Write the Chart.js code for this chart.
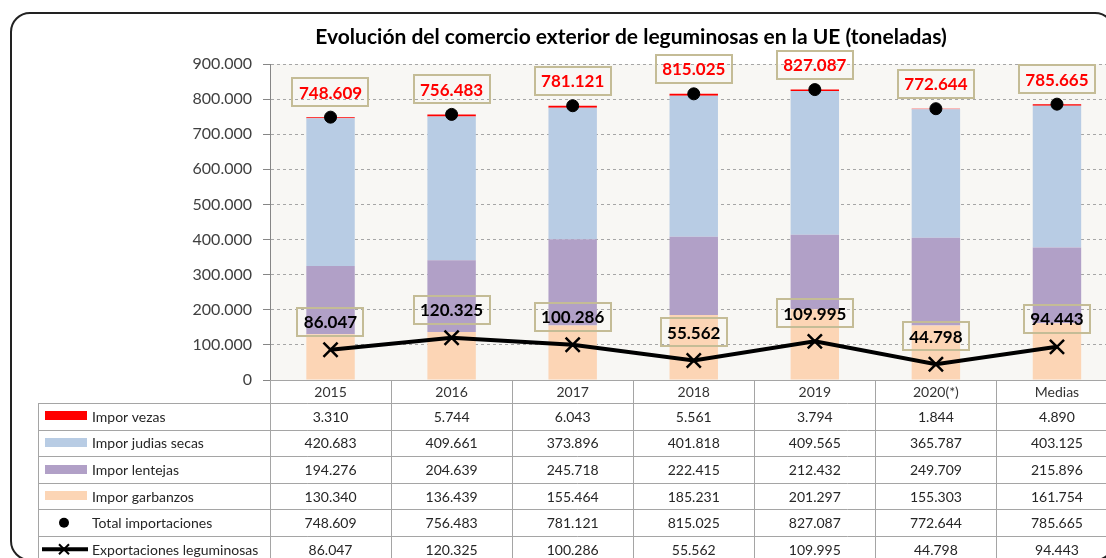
<!DOCTYPE html>
<html>
<head>
<meta charset="utf-8">
<script src="https://cdn.jsdelivr.net/npm/chart.js@4.4.0/dist/chart.umd.min.js"></script>
<style>
html, body { margin: 0; padding: 0; overflow: hidden; background: #fff; }
#frame { position: absolute; left: 10px; top: 12px; width: 1105px; height: 549px; border: 2px solid #222; border-radius: 20px; box-sizing: border-box; }
#chart { position: absolute; left: 0; top: 0; }
</style>
</head>
<body>
<div id="frame"></div>
<canvas id="chart" width="1130" height="572"></canvas>
<script>
const title = 'Evolución del comercio exterior de leguminosas en la UE (toneladas)';
const years = ['2015', '2016', '2017', '2018', '2019', '2020(*)', 'Medias'];
const vezas = [3310, 5744, 6043, 5561, 3794, 1844, 4890];
const judias = [420683, 409661, 373896, 401818, 409565, 365787, 403125];
const lentejas = [194276, 204639, 245718, 222415, 212432, 249709, 215896];
const garbanzos = [130340, 136439, 155464, 185231, 201297, 155303, 161754];
const totalImport = [748609, 756483, 781121, 815025, 827087, 772644, 785665];
const exportaciones = [86047, 120325, 100286, 55562, 109995, 44798, 94443];
const yMax = 900000;
const yStep = 100000;

const FONT = 'Lato, "Open Sans", sans-serif';

function fmt(v) {
    return Math.round(v).toString().replace(/\B(?=(\d{3})+(?!\d))/g, '.');
}

// table rows under the chart (legend + values)
const rows = [
    { name: 'Impor vezas', values: vezas, key: 'box', color: '#FF0000' },
    { name: 'Impor judias secas', values: judias, key: 'box', color: '#B8CCE4' },
    { name: 'Impor lentejas', values: lentejas, key: 'box', color: '#B1A0C7' },
    { name: 'Impor garbanzos', values: garbanzos, key: 'box', color: '#FCD5B5' },
    { name: 'Total importaciones', values: totalImport, key: 'dot' },
    { name: 'Exportaciones leguminosas', values: exportaciones, key: 'line' }
];

// plot area background
const plotBg = {
    id: 'plotBg',
    beforeDraw(chart) {
        const { ctx, chartArea: a } = chart;
        ctx.save();
        ctx.fillStyle = '#F8F7F4';
        ctx.fillRect(a.left, a.top, a.right - a.left, a.bottom - a.top);
        ctx.restore();
    }
};

// boxed value labels over the points
function drawBox(ctx, text, x, y, color) {
    ctx.font = 'bold 17px ' + FONT;
    const w = ctx.measureText(text).width + 13;
    const h = 28;
    ctx.strokeStyle = '#C4BC96';
    ctx.lineWidth = 2;
    ctx.strokeRect(Math.round(x - w / 2), Math.round(y - h / 2), Math.round(w), h);
    ctx.fillStyle = color;
    ctx.textAlign = 'center';
    ctx.textBaseline = 'middle';
    ctx.fillText(text, x, y + 1);
}

const pointLabels = {
    id: 'pointLabels',
    afterDatasetsDraw(chart) {
        const ctx = chart.ctx;
        ctx.save();
        chart.getDatasetMeta(0).data.forEach((p, i) => drawBox(ctx, fmt(totalImport[i]), p.x, p.y - 25, '#FF0000'));
        chart.getDatasetMeta(1).data.forEach((p, i) => drawBox(ctx, fmt(exportaciones[i]), p.x, p.y - 28, '#000'));
        ctx.restore();
    }
};

// title + data table
const dataTable = {
    id: 'dataTable',
    afterDraw(chart) {
        const { ctx, chartArea: a } = chart;
        const xs = chart.scales.x;
        const half = (xs.getPixelForValue(1) - xs.getPixelForValue(0)) / 2;
        const right = xs.getPixelForValue(years.length - 1) + half;
        const left = 38;
        const top = a.bottom;
        const headH = 23;
        const rowH = 26.6;
        const bottom = top + headH + rows.length * rowH;
        ctx.save();

        ctx.font = 'bold 21px ' + FONT;
        ctx.fillStyle = '#000';
        ctx.textAlign = 'center';
        ctx.textBaseline = 'middle';
        ctx.fillText(title, 631, 37);

        ctx.strokeStyle = '#A5A5A5';
        ctx.lineWidth = 1;
        ctx.beginPath();
        const px = v => Math.round(v) + 0.5;
        ctx.moveTo(a.left, px(top));
        ctx.lineTo(right, px(top));
        for (let r = 0; r <= rows.length; r++) {
            const y = px(top + headH + r * rowH);
            ctx.moveTo(left, y);
            ctx.lineTo(right, y);
        }
        ctx.moveTo(px(left), top + headH);
        ctx.lineTo(px(left), bottom);
        for (let i = 0; i <= years.length; i++) {
            const x = px(a.left + i * half * 2);
            ctx.moveTo(x, top);
            ctx.lineTo(x, bottom);
        }
        ctx.stroke();

        ctx.font = '14px ' + FONT;
        ctx.fillStyle = '#333';
        ctx.textAlign = 'center';
        years.forEach((y, i) => ctx.fillText(y, xs.getPixelForValue(i), top + headH / 2 + 1));

        rows.forEach((row, r) => {
            const cy = top + headH + r * rowH + rowH / 2;
            if (row.key === 'box') {
                ctx.fillStyle = row.color;
                ctx.fillRect(45, Math.round(cy - 5), 42, 9);
            } else if (row.key === 'dot') {
                ctx.fillStyle = '#000';
                ctx.beginPath();
                ctx.arc(64, cy, 5, 0, Math.PI * 2);
                ctx.fill();
            } else {
                ctx.strokeStyle = '#000';
                ctx.lineWidth = 4;
                ctx.beginPath();
                ctx.moveTo(42, cy);
                ctx.lineTo(88, cy);
                ctx.stroke();
                ctx.lineWidth = 2;
                ctx.beginPath();
                ctx.moveTo(59, cy - 5); ctx.lineTo(69, cy + 5);
                ctx.moveTo(59, cy + 5); ctx.lineTo(69, cy - 5);
                ctx.stroke();
            }
            ctx.fillStyle = '#262626';
            ctx.textAlign = 'left';
            ctx.fillText(row.name, 92, cy + 1);
            ctx.textAlign = 'center';
            row.values.forEach((v, i) => ctx.fillText(fmt(v), xs.getPixelForValue(i), cy + 1));
        });
        ctx.restore();
    }
};

const ctx = document.getElementById('chart').getContext('2d');
new Chart(ctx, {
    type: 'bar',
    data: {
        labels: years,
        datasets: [{
            type: 'line',
            label: 'Total importaciones',
            data: totalImport,
            showLine: false,
            pointRadius: 6,
            pointBackgroundColor: '#000',
            pointBorderColor: '#000',
            stack: 'total',
            order: 0
        }, {
            type: 'line',
            label: 'Exportaciones leguminosas',
            data: exportaciones,
            borderColor: '#000',
            borderWidth: 4,
            pointStyle: 'crossRot',
            pointRadius: 10,
            pointBorderWidth: 2.5,
            pointBorderColor: '#000',
            pointBackgroundColor: '#000',
            stack: 'export',
            order: 0
        }, {
            label: 'Impor garbanzos',
            data: garbanzos,
            backgroundColor: '#FCD5B5',
            stack: 'imp',
            order: 1
        }, {
            label: 'Impor lentejas',
            data: lentejas,
            backgroundColor: '#B1A0C7',
            stack: 'imp',
            order: 1
        }, {
            label: 'Impor judias secas',
            data: judias,
            backgroundColor: '#B8CCE4',
            stack: 'imp',
            order: 1
        }, {
            label: 'Impor vezas',
            data: vezas,
            backgroundColor: '#FF0000',
            stack: 'imp',
            order: 1
        }]
    },
    options: {
        responsive: false,
        animation: false,
        devicePixelRatio: 1,
        categoryPercentage: 0.8,
        barPercentage: 0.5,
        layout: { padding: { top: 64, left: 0, right: 10, bottom: 192 } },
        plugins: {
            legend: { display: false },
            tooltip: { enabled: false },
            title: { display: false }
        },
        scales: {
            x: { display: false, stacked: true },
            y: {
                stacked: true,
                min: 0,
                max: yMax,
                afterFit: s => { s.width = 270; },
                ticks: {
                    stepSize: yStep,
                    padding: 11,
                    color: '#404040',
                    font: { family: FONT, size: 16 },
                    callback: v => fmt(v)
                },
                grid: { color: '#A6A6A6', tickLength: 7, tickColor: '#868686' },
                border: { color: '#868686', dash: [3, 3] }
            }
        }
    },
    plugins: [plotBg, pointLabels, dataTable]
});
</script>
</body>
</html>
